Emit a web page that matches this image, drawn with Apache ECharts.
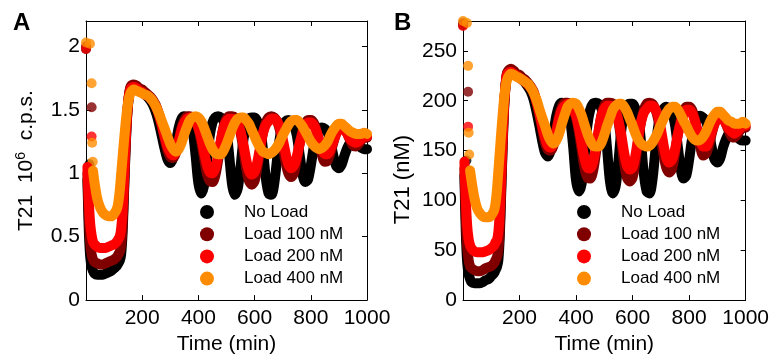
<!DOCTYPE html>
<html>
<head>
<meta charset="utf-8">
<title>T21 oscillator under load</title>
<script src="https://cdn.jsdelivr.net/npm/echarts@6/dist/echarts.min.js"></script>
<style>
  html, body { margin: 0; padding: 0; background: #fff; }
  #chart { width: 772px; height: 360px; }
</style>
</head>
<body>
<div id="chart"></div>
<script>
// Simulation output sampled in time (min)
const timeMin = [5,10,15,20,25,30,40,50,60,70,80,90,100,110,115,120,125,130,135,140,145,150,155,160,
  170,180,190,200,210,220,230,240,250,260,270,280,290,300,310,320,330,340,350,360,370,380,390,400,
  410,420,430,440,450,460,470,480,490,500,510,520,530,540,550,560,570,580,590,600,610,620,630,640,
  650,660,670,680,690,700,710,720,730,740,750,760,770,780,790,800,810,820,830,840,850,860,870,880,
  890,900,910,920,930,940,950,960,970,980,990,1000];

const seriesNames = ['No Load', 'Load 100 nM', 'Load 200 nM', 'Load 400 nM'];
const seriesColors = ['#000000', '#800000', '#ff0000', '#ff8c00'];

// Panel A: T21 fluorescence, 10^6 c.p.s.
const cpsNoLoad = [0.95,0.55,0.34,0.26,0.23,0.21,0.20,0.20,0.20,0.21,0.22,0.23,0.25,0.27,0.29,0.31,0.36,0.52,0.82,1.13,1.39,1.55,1.64,1.68,
  1.69,1.68,1.66,1.64,1.62,1.60,1.57,1.53,1.47,
  1.39,1.29,1.19,1.11,1.08,1.12,1.24,1.36,1.43,1.45,
  1.44,1.41,1.33,1.14,0.92,0.84,0.90,1.08,1.29,1.40,
  1.44,1.45,1.44,1.41,1.33,1.13,0.91,0.83,0.88,1.05,
  1.26,1.38,1.43,1.44,1.44,1.41,1.35,1.18,0.96,0.84,
  0.83,0.92,1.11,1.28,1.37,1.41,1.42,1.41,1.38,1.30,
  1.15,1.00,0.93,0.95,1.06,1.20,1.30,1.35,1.36,1.35,
  1.32,1.25,1.14,1.06,1.04,1.07,1.14,1.20,1.24,1.25,
  1.24,1.22,1.20,1.19,1.19];
const cpsLoad100 = [1.00,0.65,0.45,0.36,0.32,0.30,0.29,0.28,0.28,0.29,0.30,0.31,0.32,0.34,0.36,0.38,0.43,0.58,0.86,1.16,1.41,1.56,1.65,1.69,
  1.70,1.69,1.67,1.66,1.64,1.62,1.60,1.57,1.53,
  1.46,1.37,1.27,1.18,1.13,1.12,1.16,1.26,1.36,1.42,
  1.45,1.45,1.44,1.41,1.35,1.25,1.12,1.00,0.94,0.93,
  0.98,1.10,1.25,1.37,1.43,1.45,1.45,1.44,1.40,1.32,
  1.19,1.04,0.94,0.91,0.94,1.04,1.19,1.32,1.40,1.44,
  1.45,1.44,1.41,1.34,1.22,1.09,1.00,0.97,1.00,1.10,
  1.23,1.33,1.39,1.42,1.42,1.40,1.34,1.24,1.14,1.09,
  1.10,1.16,1.24,1.31,1.35,1.36,1.35,1.31,1.26,1.22,
  1.21,1.23,1.26,1.28,1.28];
const cpsLoad200 = [1.05,0.78,0.60,0.51,0.46,0.44,0.42,0.41,0.41,0.41,0.42,0.43,0.44,0.46,0.48,0.50,0.56,0.70,0.94,1.20,1.42,1.56,1.64,1.67,
  1.68,1.67,1.65,1.64,1.62,1.61,1.59,1.56,1.52,
  1.46,1.38,1.29,1.21,1.16,1.14,1.17,1.25,1.34,1.40,
  1.43,1.44,1.43,1.41,1.36,1.28,1.17,1.07,1.01,1.00,
  1.04,1.14,1.26,1.36,1.41,1.43,1.43,1.42,1.39,1.33,
  1.23,1.11,1.02,0.99,1.01,1.09,1.21,1.32,1.38,1.41,
  1.43,1.43,1.41,1.36,1.27,1.16,1.07,1.04,1.06,1.13,
  1.23,1.31,1.37,1.40,1.40,1.38,1.33,1.26,1.19,1.15,
  1.15,1.19,1.25,1.31,1.34,1.35,1.34,1.31,1.27,1.25,
  1.24,1.25,1.27,1.29,1.29];
const cpsLoad400 = [null,null,null,null,1.02,0.93,0.80,0.73,0.69,0.67,0.66,0.66,0.68,0.72,0.77,0.86,0.99,1.12,1.25,1.37,1.48,1.56,1.61,1.64,
  1.66,1.65,1.64,1.63,1.62,1.61,1.59,1.56,1.52,
  1.47,1.41,1.35,1.29,1.23,1.19,1.17,1.19,1.24,1.31,
  1.37,1.42,1.44,1.45,1.44,1.41,1.36,1.30,1.24,1.19,
  1.16,1.15,1.15,1.18,1.23,1.29,1.35,1.40,1.43,1.44,
  1.44,1.42,1.39,1.34,1.29,1.24,1.20,1.17,1.16,1.15,
  1.16,1.18,1.21,1.25,1.30,1.34,1.38,1.41,1.42,1.42,
  1.40,1.37,1.33,1.29,1.25,1.22,1.20,1.19,1.20,1.22,
  1.25,1.30,1.34,1.37,1.39,1.39,1.37,1.35,1.33,1.32,
  1.31,1.31,1.31,1.32,1.31];
// first solver steps, [time, value]
const cpsStartNoLoad = [[0,1.98],[12,1.07]];
const cpsStart100 = [[0,2.00],[20,1.52]];
const cpsStart200 = [[0,1.98],[20,1.29]];
const cpsStart400 = [[0,2.03],[14,2.02],[20,1.71],[22,1.24],[24,1.09]];

// Panel B: T21 concentration, nM
const nmNoLoad = [125,67,37,26,21,18,17,17,17,18,20,21,24,27,30,33,40,63,106,151,189,213,226,229,
  230,229,226,224,221,218,214,209,201,
  189,175,160,148,144,150,167,185,195,198,
  197,192,180,153,120,109,117,144,175,191,
  197,198,197,192,180,151,119,107,114,139,
  170,188,195,197,197,192,183,158,126,109,
  107,120,148,173,186,192,194,192,188,176,
  154,132,122,125,141,161,176,183,185,183,
  179,169,153,141,138,142,153,161,167,169,
  167,164,161,160,160];
const nmLoad100 = [132,81,53,40,34,32,30,29,29,30,32,33,34,37,40,43,50,71,112,155,192,214,227,230,
  232,230,227,226,223,221,218,214,209,
  199,186,172,158,151,150,155,170,185,194,
  198,198,197,192,183,169,150,132,123,122,
  129,147,169,186,195,198,198,197,191,179,
  160,138,123,119,123,138,160,179,191,197,
  198,197,192,182,164,145,132,128,132,147,
  166,180,189,194,194,191,182,167,153,145,
  147,155,167,177,183,185,183,177,170,164,
  163,166,170,173,173];
const nmLoad200 = [139,100,74,61,55,52,49,48,48,48,49,50,52,55,58,60,68,88,123,161,194,214,226,228,
  229,227,225,223,221,219,216,213,208,
  199,188,175,163,155,153,157,169,182,191,
  195,197,195,192,185,173,157,142,133,132,
  138,153,170,185,192,195,195,194,189,180,
  166,148,135,131,133,145,163,179,188,192,
  195,195,192,185,172,155,142,138,141,151,
  166,177,186,191,191,188,180,170,160,154,
  154,160,169,177,182,183,182,177,172,169,
  167,169,172,175,175];
const nmLoad400 = [null,null,null,null,130,120,103,92,87,84,83,83,85,90,97,110,129,148,167,185,201,213,220,224,
  227,226,224,223,221,219,217,213,208,
  201,192,183,175,166,160,157,160,167,177,
  186,194,197,198,197,192,185,176,167,160,
  155,154,154,158,166,175,183,191,195,197,
  197,194,189,182,175,167,161,157,155,154,
  155,158,163,169,176,182,188,192,194,194,
  191,186,180,175,169,164,161,160,161,164,
  169,176,182,186,189,189,186,183,180,179,
  177,177,177,179,177];
const nmStartNoLoad = [[0,276],[12,140]];
const nmStart100 = [[0,278],[18,209]];
const nmStart200 = [[0,275],[18,174]];
const nmStart400 = [[0,280],[14,278],[18,235],[20,168],[22,146]];

const xTicksMax = 1000;
const FONT = 'Liberation Sans, Arial, Helvetica, sans-serif';

function pairs(values) {
  const out = [];
  values.forEach((v, i) => { if (v !== null) out.push([timeMin[i], v]); });
  return out;
}

function curve(name, color, panel, values) {
  return {
    type: 'line', name: name, xAxisIndex: panel * 2, yAxisIndex: panel * 2,
    data: pairs(values), showSymbol: false, symbol: 'none', smooth: 0.3,
    lineStyle: { color: color, width: 10, cap: 'round', join: 'round' },
    itemStyle: { color: color }, clip: false, silent: true
  };
}
function startDots(name, color, panel, pts) {
  return {
    type: 'scatter', name: name, xAxisIndex: panel * 2, yAxisIndex: panel * 2,
    data: pts, symbol: 'circle', symbolSize: 10,
    itemStyle: { color: color }, clip: false, silent: true
  };
}

const panelA = [cpsNoLoad, cpsLoad100, cpsLoad200, cpsLoad400];
const panelAStart = [cpsStartNoLoad, cpsStart100, cpsStart200, cpsStart400];
const panelB = [nmNoLoad, nmLoad100, nmLoad200, nmLoad400];
const panelBStart = [nmStartNoLoad, nmStart100, nmStart200, nmStart400];

const series = [];
for (let k = 0; k < 4; k++) {
  series.push(curve(seriesNames[k], seriesColors[k], 0, panelA[k]));
  series.push(startDots(seriesNames[k], seriesColors[k], 0, panelAStart[k]));
}
for (let k = 0; k < 4; k++) {
  series.push(curve(seriesNames[k], seriesColors[k], 1, panelB[k]));
  series.push(startDots(seriesNames[k], seriesColors[k], 1, panelBStart[k]));
}

const axisLine = { show: true, onZero: false, lineStyle: { color: '#000', width: 1 } };
const tick = { show: true, inside: true, length: 5, lineStyle: { color: '#000', width: 1 } };
const labelStyle = { color: '#000', fontSize: 21, fontFamily: FONT };

function xAxes(grid) {
  return [
    { gridIndex: grid, type: 'value', position: 'bottom', min: 0, max: xTicksMax, interval: 200,
      axisLine: axisLine, axisTick: tick, splitLine: { show: false },
      axisLabel: Object.assign({ margin: 8, formatter: v => (v === 0 ? '' : String(v)) }, labelStyle),
      name: 'Time (min)', nameLocation: 'middle', nameGap: 33,
      nameTextStyle: { color: '#000', fontSize: 21, fontFamily: FONT } },
    { gridIndex: grid, type: 'value', position: 'top', min: 0, max: xTicksMax, interval: 200,
      axisLine: axisLine, axisTick: tick, splitLine: { show: false }, axisLabel: { show: false } }
  ];
}
function yAxes(grid, max, interval, name, nameGap, nameStyle) {
  return [
    { gridIndex: grid, type: 'value', position: 'left', min: 0, max: max, interval: interval,
      axisLine: axisLine, axisTick: tick, splitLine: { show: false },
      axisLabel: Object.assign({ margin: 6, formatter: v => (v > max - 1e-9 && v % interval !== 0 ? '' : String(v)) }, labelStyle),
      name: name, nameLocation: 'middle', nameRotate: 90, nameGap: nameGap, nameTextStyle: nameStyle },
    { gridIndex: grid, type: 'value', position: 'right', min: 0, max: max, interval: interval,
      axisLine: axisLine, axisTick: tick, splitLine: { show: false }, axisLabel: { show: false } }
  ];
}

const legendBase = {
  orient: 'vertical', itemWidth: 14, itemHeight: 14, itemGap: 5.2, icon: 'circle', padding: 0,
  selectedMode: false, data: seriesNames,
  textStyle: { color: '#000', fontSize: 17, fontFamily: FONT, lineHeight: 14, padding: [0, 0, 0, 25] }
};

const option = {
  animation: false,
  backgroundColor: '#fff',
  title: [
    { text: 'A', left: 13, top: 11, padding: 0, textStyle: { fontSize: 24, fontWeight: 'bold', color: '#000', fontFamily: FONT } },
    { text: 'B', left: 394, top: 11, padding: 0, textStyle: { fontSize: 24, fontWeight: 'bold', color: '#000', fontFamily: FONT } }
  ],
  grid: [
    { left: 86, top: 21, width: 281, height: 280 },
    { left: 463, top: 21, width: 283, height: 280 }
  ],
  xAxis: xAxes(0).concat(xAxes(1)),
  yAxis: yAxes(0, 2.2, 0.5, '{n|T21  10}{s|6}{n|  c.p.s.}', 48, {
      color: '#000', fontFamily: FONT,
      rich: { n: { fontSize: 21, lineHeight: 24, fontFamily: FONT, color: '#000' },
              s: { fontSize: 14, lineHeight: 14, verticalAlign: 'top', fontFamily: FONT, color: '#000' } } })
    .concat(yAxes(1, 280, 50, 'T21 (nM)', 49, {
      color: '#000', fontSize: 22, fontFamily: FONT, padding: [0, 38, 0, 0] })),
  legend: [
    Object.assign({ left: 200, top: 203.5 }, legendBase),
    Object.assign({ left: 577, top: 203.5 }, legendBase)
  ],
  series: series
};

const chart = echarts.init(document.getElementById('chart'), null, { renderer: 'canvas' });
chart.setOption(option);
</script>
</body>
</html>
